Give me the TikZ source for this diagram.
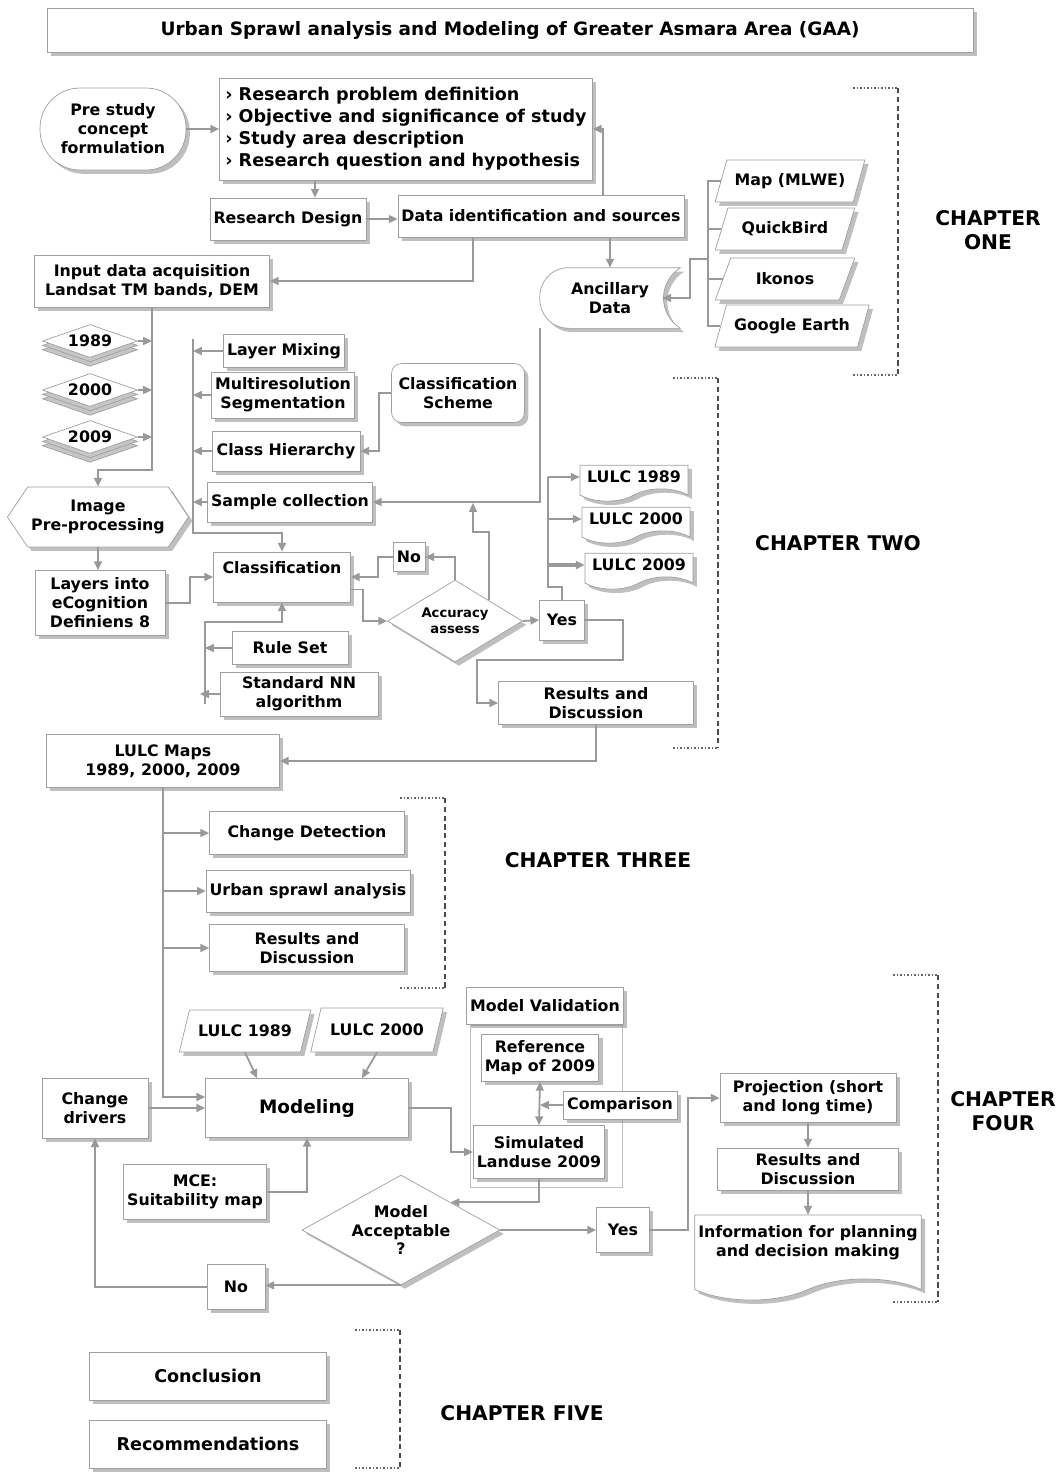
\documentclass[tikz,border=0pt]{standalone}
\usepackage{fontspec}
\setmainfont{DejaVu Sans}
\usetikzlibrary{arrows.meta,shapes.geometric,shapes.symbols,shadows,backgrounds}

\begin{document}
\begin{tikzpicture}[x=0.02cm, y=-0.02cm,
  every node/.style={font=\bfseries\fontsize{9}{10.8}\selectfont},
  box/.style={draw=gray!75, fill=white, align=center, inner sep=2pt,
    drop shadow={shadow xshift=2.2pt, shadow yshift=-2.2pt, fill=black!50}},
  para/.style={box, trapezium, trapezium left angle=64, trapezium right angle=116, trapezium stretches=true},
  docu/.style={box, tape, tape bend top=none, tape bend height=7pt},
  decision/.style={box, diamond, inner sep=0pt},
  yearstack/.style={draw=gray!75, fill=white, diamond, aspect=3, inner sep=0pt,
    minimum width=1.9cm, minimum height=0.66cm,
    double copy shadow={shadow xshift=0pt, shadow yshift=-2.5pt, fill=gray!45, draw=gray!75}},
  link/.style={draw=gray!80, line width=1pt, -{Triangle[length=5pt,width=4.5pt]}},
  twoway/.style={draw=gray!80, line width=1pt, {Triangle[length=5pt,width=4.5pt]}-{Triangle[length=5pt,width=4.5pt]}},
  plain/.style={draw=gray!80, line width=1pt},
  chap/.style={font=\bfseries\fontsize{11.5}{14}\selectfont, align=center},
  brace/.style={draw=black!70, line width=1.3pt, densely dashed},
  bracetick/.style={draw=black!60, line width=1pt, densely dotted}]

\useasboundingbox (0,0) rectangle (1063,1472);

\node[box, minimum width=18.52cm, minimum height=0.88cm, font=\bfseries\fontsize{10.5}{12}\selectfont] (title) at (510,30) {Urban Sprawl analysis and Modeling of Greater Asmara Area (GAA)};

% chapter one
\node[box, rounded corners=0.8cm, minimum width=2.92cm, minimum height=1.64cm] (pre) at (113,129) {Pre study\\concept\\formulation};
\node[box, minimum width=7.46cm, minimum height=2.04cm, align=left, font=\bfseries\fontsize{10}{12.5}\selectfont] (res) at (406,129) {› Research problem definition\\› Objective and significance of study\\› Study area description\\› Research question and hypothesis};
\node[box, minimum width=3.06cm, minimum height=0.84cm] (design) at (288,219) {Research Design};
\node[box, minimum width=5.66cm, minimum height=0.84cm] (dataid) at (541,216) {Data identification and sources};
\node[box, minimum width=4.7cm, minimum height=1.04cm] (input) at (152,281) {Input data acquisition\\Landsat TM bands, DEM};
\node[minimum width=2.8cm, minimum height=1.2cm, align=center] (anc) at (610,298) {Ancillary\\Data};
\begin{scope}[on background layer]
\draw[draw=gray!75, fill=white, drop shadow={shadow xshift=2.2pt, shadow yshift=-2.2pt, fill=black!50}]
  ([xshift=0.6cm]anc.north west) -- (anc.north east)
  .. controls ([xshift=-0.45cm,yshift=-0.3cm]anc.north east) and ([xshift=-0.45cm,yshift=0.3cm]anc.south east) .. (anc.south east)
  -- ([xshift=0.6cm]anc.south west)
  .. controls ([xshift=-0.2cm]anc.south west) and ([xshift=-0.2cm]anc.north west) .. ([xshift=0.6cm]anc.north west) -- cycle;
\end{scope}
\node[para, minimum width=3.0cm, minimum height=0.84cm] (map) at (790,181) {Map (MLWE)};
\node[para, minimum width=2.8cm, minimum height=0.84cm] (quick) at (785,229) {QuickBird};
\node[para, minimum width=2.8cm, minimum height=0.84cm] (ikonos) at (785,279) {Ikonos};
\node[para, minimum width=3.1cm, minimum height=0.84cm] (google) at (792,326) {Google Earth};
\coordinate (srcbus) at (708,259);

\draw[link] (pre.east) -- (res.west);
\draw[link] ([xshift=-1.82cm]res.south) -- ([xshift=-1.82cm]res.south |- design.north);
\draw[link] (design.east) -- (design.east -| dataid.west);
\draw[link] ([xshift=1.24cm]dataid.north) |- (res.east);
\draw[link] (dataid.south -| anc.north) -- (anc.north);
\draw[link] ([xshift=-1.36cm]dataid.south) |- (input.east);
\draw[plain] (map.west) -| (srcbus) |- (google.west);
\draw[plain] (quick.west) -- (quick.west -| srcbus);
\draw[plain] (ikonos.west) -- (ikonos.west -| srcbus);
\draw[link] (srcbus) -- ++(-0.36cm,0) |- ([xshift=-0.36cm]anc.east);

% chapter two
\foreach \yr/\yy in {1989/341, 2000/390, 2009/437}
  \node[yearstack] (y\yr) at (90,\yy) {\yr};
\coordinate (ybus) at (152,470);
\node[box, signal, signal to=west and east, signal pointer angle=112, minimum width=3.56cm, minimum height=1.2cm] (img) at (98,517) {Image\\Pre-processing};
\node[box, minimum width=2.6cm, minimum height=1.3cm] (layers) at (100,603) {Layers into\\eCognition\\Definiens 8};
\node[box, minimum width=2.74cm, minimum height=1.0cm] (class) at (282,577) {Classification\\~};
\node[box, minimum width=2.32cm, minimum height=0.66cm] (mix) at (284,351) {Layer Mixing};
\node[box, minimum width=2.8cm, minimum height=0.92cm] (seg) at (283,395) {Multiresolution\\Segmentation};
\node[box, minimum width=2.96cm, minimum height=0.8cm] (hier) at (286,451) {Class Hierarchy};
\node[box, minimum width=3.2cm, minimum height=0.8cm] (sample) at (290,502) {Sample collection};
\node[box, rounded corners=0.2cm, minimum width=2.66cm, minimum height=1.18cm] (scheme) at (458,393) {Classification\\Scheme};
\node[box, minimum width=2.32cm, minimum height=0.66cm] (rule) at (290,648) {Rule Set};
\node[box, minimum width=3.16cm, minimum height=0.88cm] (nn) at (299,694) {Standard NN\\algorithm};
\node[decision, aspect=1.65, minimum width=2.7cm, minimum height=1.64cm, font=\bfseries\fontsize{7.5}{9}\selectfont] (acc) at (455,621) {Accuracy\\assess};
\node[box, minimum width=0.64cm, minimum height=0.58cm] (no) at (409,557) {No};
\node[box, minimum width=0.9cm, minimum height=0.8cm] (yes) at (562,620) {Yes};
\node[docu, minimum width=2.16cm, minimum height=0.72cm] (l89) at (634,477) {LULC 1989};
\node[docu, minimum width=2.16cm, minimum height=0.72cm] (l00) at (636,519) {LULC 2000};
\node[docu, minimum width=2.16cm, minimum height=0.72cm] (l09) at (639,565) {LULC 2009};
\node[box, minimum width=3.9cm, minimum height=0.86cm] (res2) at (596,703) {Results and\\Discussion};
\node[box, minimum width=4.66cm, minimum height=1.06cm] (maps) at (163,761) {LULC Maps\\1989, 2000, 2009};
\coordinate (pbus) at (193,533);
\coordinate (rbus) at (205,622);
\coordinate (sjoin) at (473,503);
\coordinate (lbus) at (548,587);
\coordinate (ydrop) at (623,660);

\foreach \yr in {1989,2000,2009}
  \draw[link] (y\yr.east) -- (y\yr.east -| ybus);
\draw[link] (input.south) -- (ybus) -| (img.north);
\draw[link] (img.south) -- (img.south |- layers.north);
\draw[link] (layers.east) -- ++(0.5cm,0) |- (class.west);
\foreach \b in {mix,seg,hier,sample}
  \draw[link] (\b.west) -- (\b.west -| pbus);
\draw[link] ([yshift=0.25cm]mix.west -| pbus) -- (pbus) -| (class.north);
\draw[link] (rule.west) -- (rule.west -| rbus);
\draw[link] (nn.west) -- ([xshift=-0.1cm]nn.west -| rbus);
\draw[link] ([yshift=-0.2cm]nn.west -| rbus) -- (rbus) -| (class.south);
\draw[link] (scheme.west) -- ++(-0.25cm,0) |- (hier.east);
\draw[link] (anc.south west) |- (sample.east);
\draw[link] ([yshift=-0.25cm]class.east) -- ++(0.25cm,0) |- (acc.west);
\draw[link] (acc.north) |- (no.east);
\draw[link] (no.west) -- ++(-0.3cm,0) |- (class.east);
\draw[link] (acc.north east) |- ([yshift=-0.58cm]sjoin) -- (sjoin);
\draw[link] (acc.east) -- (yes.west);
\draw[plain] (yes.north) |- (lbus) -- (lbus |- l89.west);
\draw[link] (l89.west -| lbus) -- (l89.west);
\draw[link] (l00.west -| lbus) -- (l00.west);
\draw[link, line width=2pt] (l09.west -| lbus) -- (l09.west);
\draw[link] (yes.east) -| (ydrop) -| ([xshift=-0.42cm]res2.west) |- (res2.west);
\draw[link] (res2.south) |- (maps.east);

% chapter three
\node[box, minimum width=3.9cm, minimum height=0.86cm] (chg) at (307,833) {Change Detection};
\node[box, minimum width=3.94cm, minimum height=0.84cm] (sprawl) at (308,891) {Urban sprawl analysis};
\node[box, minimum width=3.9cm, minimum height=0.94cm] (res3) at (307,948) {Results and\\Discussion};
\foreach \b in {chg,sprawl,res3}
  \draw[link] (maps.south |- \b.west) -- (\b.west);

% chapter four
\node[para, minimum width=2.64cm, minimum height=0.84cm] (p89) at (245,1031) {LULC 1989};
\node[para, minimum width=2.66cm, minimum height=0.88cm] (p00) at (377,1030) {LULC 2000};
\node[box, minimum width=4.06cm, minimum height=1.18cm, font=\bfseries\fontsize{10.5}{12.5}\selectfont] (model) at (307,1108) {Modeling};
\node[box, minimum width=2.12cm, minimum height=1.2cm] (drivers) at (95,1108) {Change\\drivers};
\node[box, minimum width=2.8cm, minimum height=1.1cm] (mce) at (195,1192) {MCE:\\Suitability map};
\node[draw=gray!50, minimum width=3.04cm, minimum height=3.24cm] (valbox) at (546,1106) {};
\node[box, minimum width=3.08cm, minimum height=0.74cm] (vallab) at (545,1006) {Model Validation};
\node[box, minimum width=2.32cm, minimum height=0.94cm] (ref) at (540,1058) {Reference\\Map of 2009};
\node[box, minimum width=2.28cm, minimum height=0.56cm] (comp) at (620,1105) {Comparison};
\node[box, minimum width=2.44cm, minimum height=1.06cm] (sim) at (539,1152) {Simulated\\Landuse 2009};
\node[decision, aspect=1.8, minimum width=3.96cm, minimum height=2.2cm] (okd) at (401,1230) {Model\\Acceptable\\?};
\node[box, minimum width=1.06cm, minimum height=0.9cm] (yes2) at (623,1230) {Yes};
\node[box, minimum width=1.16cm, minimum height=0.9cm] (no2) at (236,1287) {No};
\node[box, minimum width=3.52cm, minimum height=0.98cm] (proj) at (808,1098) {Projection (short\\and long time)};
\node[box, minimum width=3.62cm, minimum height=0.84cm] (res4) at (808,1169) {Results and\\Discussion};
\node[docu, tape bend height=12pt, minimum width=4.46cm, minimum height=1.7cm] (info) at (808,1247) {Information for planning\\and decision making\\[-4pt]~};

\draw[link] (maps.south) |- ([yshift=0.22cm]model.west);
\draw[link] (p89.south) -- ([xshift=-1cm]model.north);
\draw[link] (p00.south) -- ([xshift=1.1cm]model.north);
\draw[link] (drivers.east) -- (drivers.east -| model.west);
\draw[link] (mce.east) -| (model.south);
\draw[link] (model.east) -- ++(0.84cm,0) |- (sim.west);
\draw[link] (comp.west) -- (comp.west -| ref.south);
\draw[twoway] (ref.south) -- (sim.north);
\draw[link] (sim.south) |- (okd.north east);
\draw[link] (okd.east) -- (okd.east -| yes2.west);
\draw[link] (yes2.east) -- ++(0.76cm,0) |- (proj.west);
\draw[link] (proj.south) -- (res4.north);
\draw[link] (res4.south) -- (info.north);
\draw[link] (okd.south) -- (okd.south -| no2.east);
\draw[link] (no2.west) -| (drivers.south);

% chapter five
\node[box, minimum width=4.74cm, minimum height=0.96cm, font=\bfseries\fontsize{10}{12}\selectfont] (concl) at (208,1376) {Conclusion};
\node[box, minimum width=4.74cm, minimum height=0.96cm, font=\bfseries\fontsize{10}{12}\selectfont] (recom) at (208,1444) {Recommendations};

% chapter brackets
\foreach \bx/\bt/\bb in {898/88/375, 718/378/748, 445/798/988, 938/975/1302, 400/1330/1468} {
  \draw[brace] (\bx,\bt) -- (\bx,\bb);
  \draw[bracetick] ({\bx-45},\bt) -- (\bx,\bt);
  \draw[bracetick] ({\bx-45},\bb) -- (\bx,\bb);
}
\node[chap] (ch1) at (988,230) {CHAPTER\\ONE};
\node[chap] (ch2) at (838,543) {CHAPTER TWO};
\node[chap] (ch3) at (598,860) {CHAPTER THREE};
\node[chap] (ch4) at (1003,1111) {CHAPTER\\FOUR};
\node[chap] (ch5) at (522,1413) {CHAPTER FIVE};
\end{tikzpicture}
\end{document}
